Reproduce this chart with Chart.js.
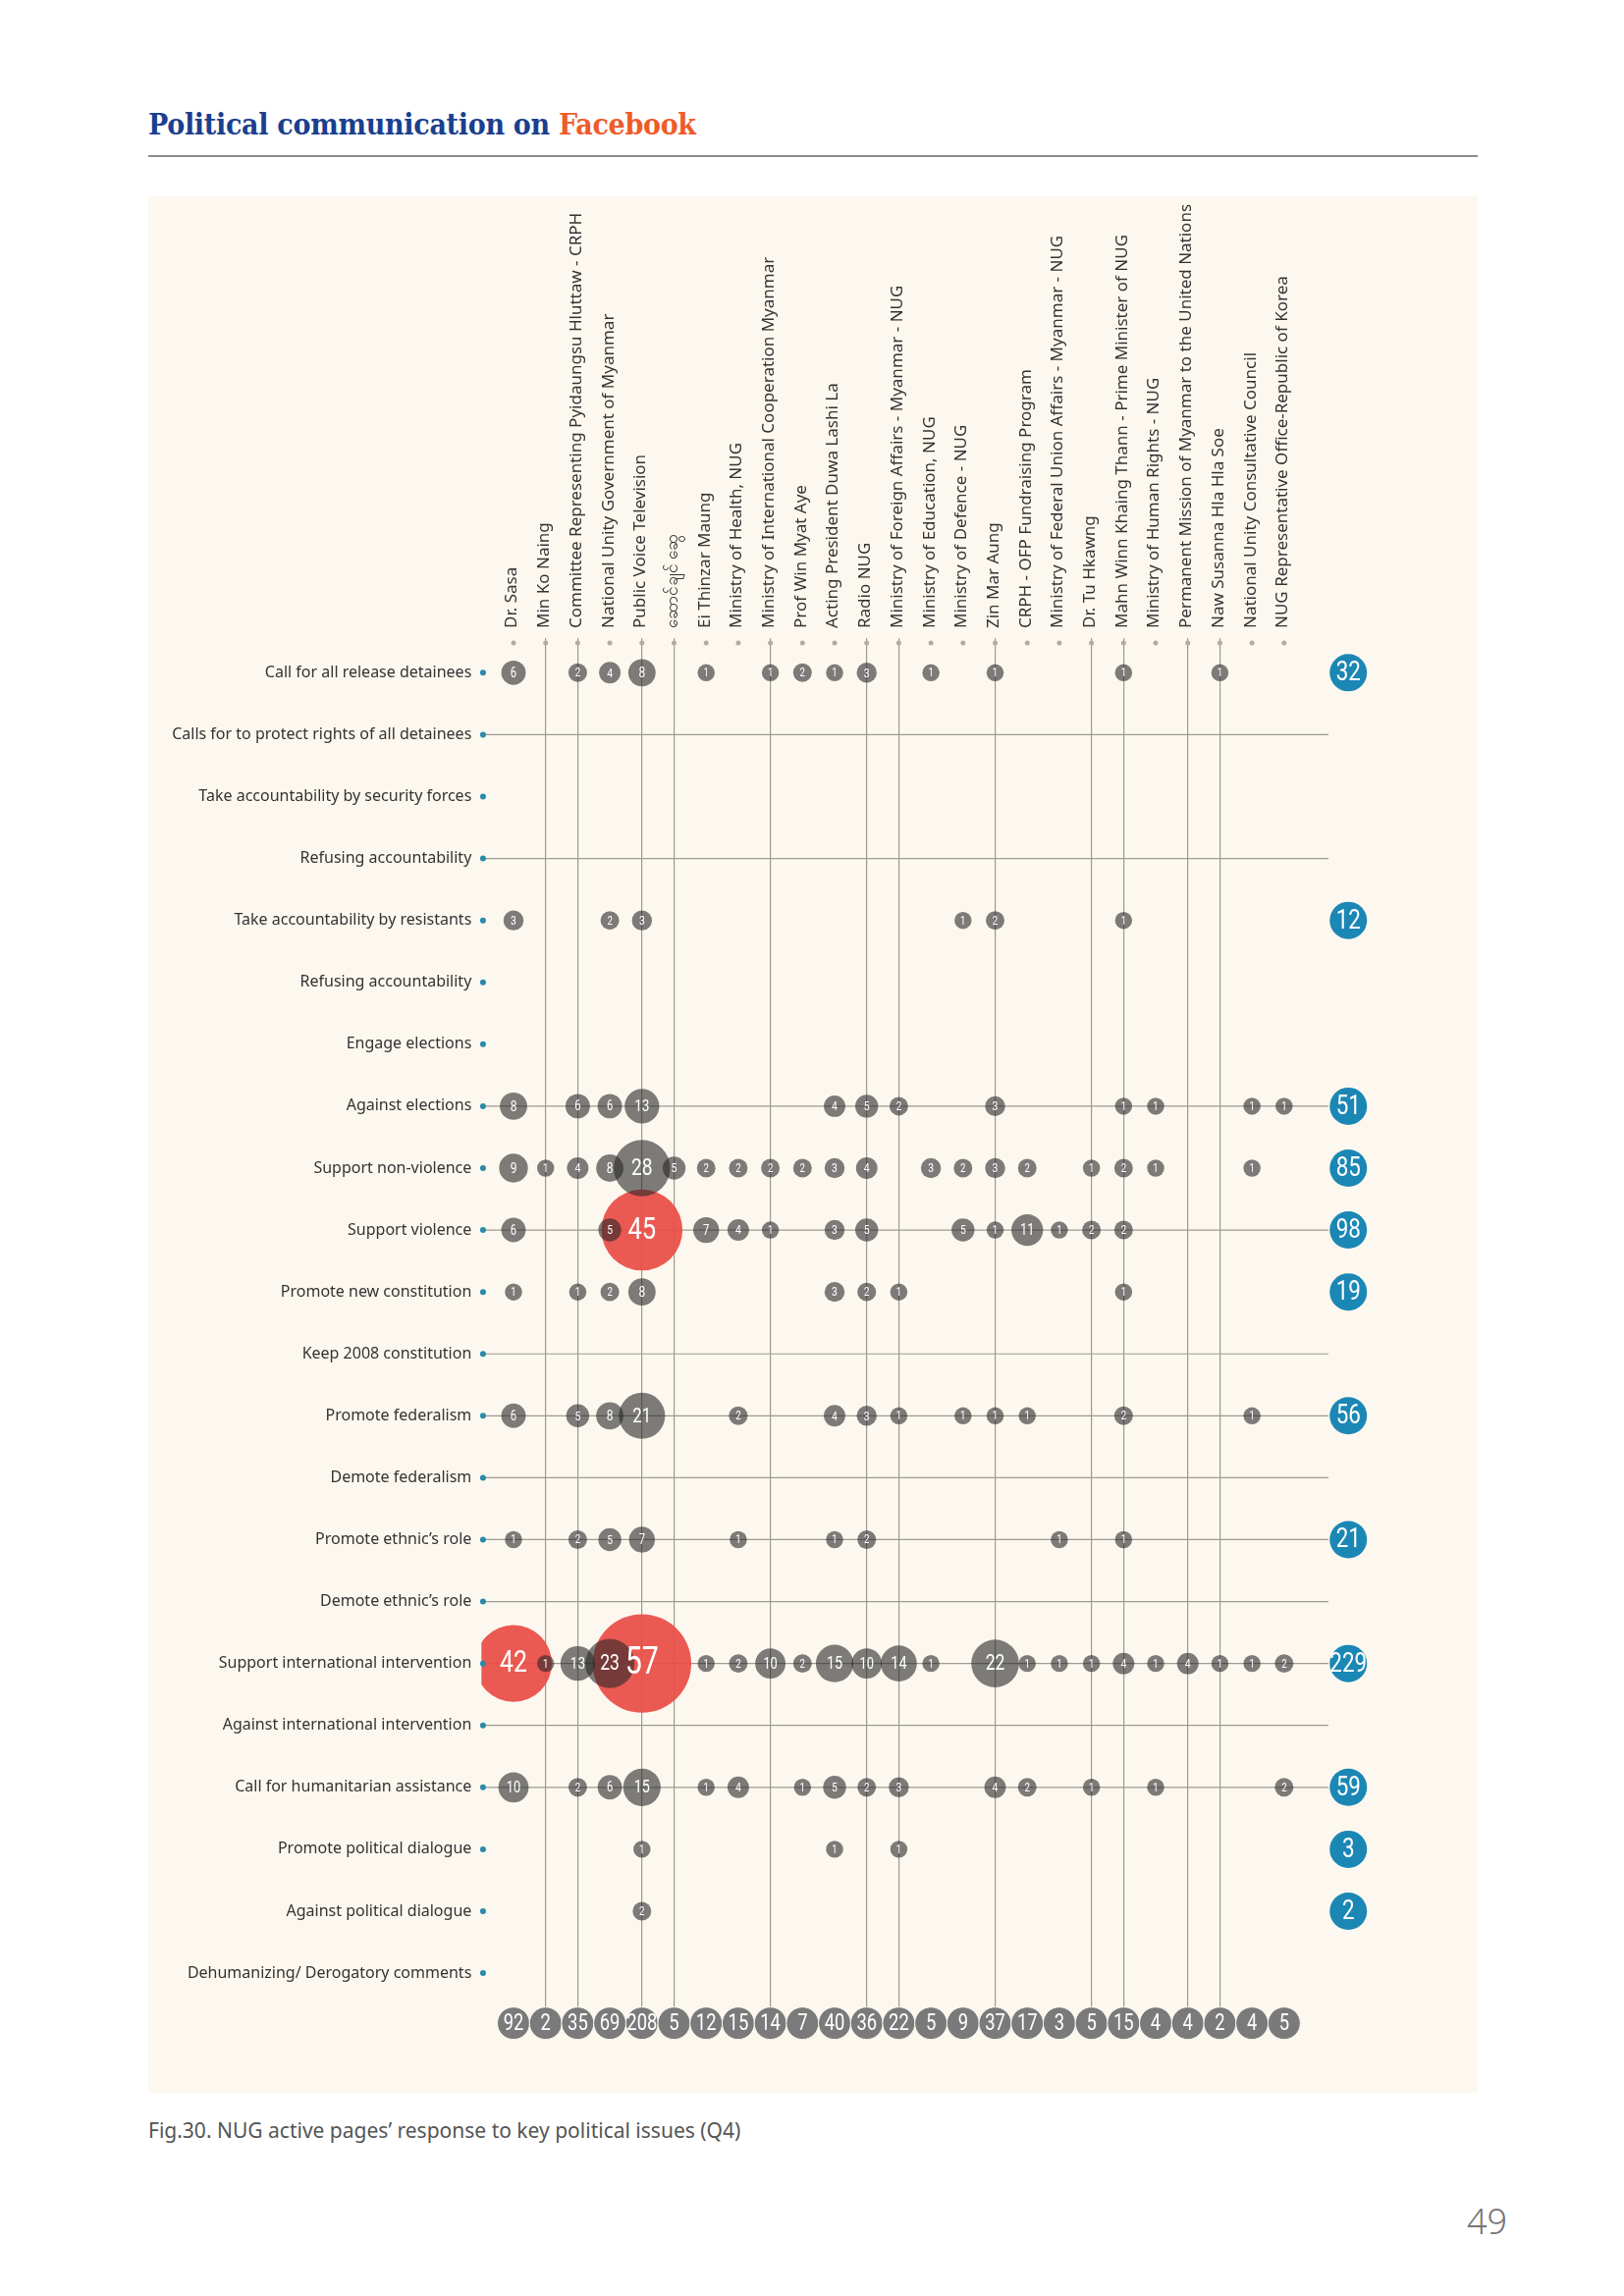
<!DOCTYPE html>
<html>
<head>
<meta charset="utf-8">
<script src="https://cdn.jsdelivr.net/npm/chart.js@4.4.1/dist/chart.umd.min.js"></script>
<style>
    body { margin: 0; background: #fff; width: 1654px; height: 2339px; position: relative; font-family: "Noto Sans", sans-serif; }
    #title { position: absolute; left: 151px; top: 109px; font: bold 30px "DejaVu Serif Condensed", "DejaVu Serif", serif; color: #1b3f8e; letter-spacing: -0.3px; }
    #title span { color: #ef5b2a; }
    #rule { position: absolute; left: 151px; top: 158px; width: 1354px; height: 2px; background: #8a8a8a; }
    #panel { position: absolute; left: 151px; top: 200px; width: 1354px; height: 1932px; background: #fdf8ef; }
    #caption { position: absolute; left: 151px; top: 2156px; font-size: 21px; color: #555; }
    #page { position: absolute; left: 1494px; top: 2238px; font-size: 36px; color: #777; font-weight: 300; }
</style>
</head>
<body>
<div id="title">Political communication on <span>Facebook</span></div>
<div id="rule"></div>
<div id="panel"><canvas id="bubbleChart" width="1354" height="1932"></canvas></div>
<div id="caption">Fig.30. NUG active pages’ response to key political issues (Q4)</div>
<div id="page">49</div>

<script>
const issues = [
    'Call for all release detainees',
    'Calls for to protect rights of all detainees',
    'Take accountability by security forces',
    'Refusing accountability',
    'Take accountability by resistants',
    'Refusing accountability',
    'Engage elections',
    'Against elections',
    'Support non-violence',
    'Support violence',
    'Promote new constitution',
    'Keep 2008 constitution',
    'Promote federalism',
    'Demote federalism',
    'Promote ethnic’s role',
    'Demote ethnic’s role',
    'Support international intervention',
    'Against international intervention',
    'Call for humanitarian assistance',
    'Promote political dialogue',
    'Against political dialogue',
    'Dehumanizing/ Derogatory comments'
];

const pages = [
    'Dr. Sasa',
    'Min Ko Naing',
    'Committee Representing Pyidaungsu Hluttaw - CRPH',
    'National Unity Government of Myanmar',
    'Public Voice Television',
    'ဆောင်ချင် ဆွေ',
    'Ei Thinzar Maung',
    'Ministry of Health, NUG',
    'Ministry of International Cooperation Myanmar',
    'Prof Win Myat Aye',
    'Acting President Duwa Lashi La',
    'Radio NUG',
    'Ministry of Foreign Affairs - Myanmar - NUG',
    'Ministry of Education, NUG',
    'Ministry of Defence - NUG',
    'Zin Mar Aung',
    'CRPH - OFP Fundraising Program',
    'Ministry of Federal Union Affairs - Myanmar - NUG',
    'Dr. Tu Hkawng',
    'Mahn Winn Khaing Thann - Prime Minister of NUG',
    'Ministry of Human Rights - NUG',
    'Permanent Mission of Myanmar to the United Nations',
    'Naw Susanna Hla Hla Soe',
    'National Unity Consultative Council',
    'NUG Representative Office-Republic of Korea'
];

// one row per issue, one value per page (same order as pages)
const counts = [
    [6,0,2,4,8,0,1,0,1,2,1,3,0,1,0,1,0,0,0,1,0,0,1,0,0],
    [0,0,0,0,0,0,0,0,0,0,0,0,0,0,0,0,0,0,0,0,0,0,0,0,0],
    [0,0,0,0,0,0,0,0,0,0,0,0,0,0,0,0,0,0,0,0,0,0,0,0,0],
    [0,0,0,0,0,0,0,0,0,0,0,0,0,0,0,0,0,0,0,0,0,0,0,0,0],
    [3,0,0,2,3,0,0,0,0,0,0,0,0,0,1,2,0,0,0,1,0,0,0,0,0],
    [0,0,0,0,0,0,0,0,0,0,0,0,0,0,0,0,0,0,0,0,0,0,0,0,0],
    [0,0,0,0,0,0,0,0,0,0,0,0,0,0,0,0,0,0,0,0,0,0,0,0,0],
    [8,0,6,6,13,0,0,0,0,0,4,5,2,0,0,3,0,0,0,1,1,0,0,1,1],
    [9,1,4,8,28,5,2,2,2,2,3,4,0,3,2,3,2,0,1,2,1,0,0,1,0],
    [6,0,0,5,45,0,7,4,1,0,3,5,0,0,5,1,11,1,2,2,0,0,0,0,0],
    [1,0,1,2,8,0,0,0,0,0,3,2,1,0,0,0,0,0,0,1,0,0,0,0,0],
    [0,0,0,0,0,0,0,0,0,0,0,0,0,0,0,0,0,0,0,0,0,0,0,0,0],
    [6,0,5,8,21,0,0,2,0,0,4,3,1,0,1,1,1,0,0,2,0,0,0,1,0],
    [0,0,0,0,0,0,0,0,0,0,0,0,0,0,0,0,0,0,0,0,0,0,0,0,0],
    [1,0,2,5,7,0,0,1,0,0,1,2,0,0,0,0,0,1,0,1,0,0,0,0,0],
    [0,0,0,0,0,0,0,0,0,0,0,0,0,0,0,0,0,0,0,0,0,0,0,0,0],
    [42,1,13,23,57,0,1,2,10,2,15,10,14,1,0,22,1,1,1,4,1,4,1,1,2],
    [0,0,0,0,0,0,0,0,0,0,0,0,0,0,0,0,0,0,0,0,0,0,0,0,0],
    [10,0,2,6,15,0,1,4,0,1,5,2,3,0,0,4,2,0,1,0,1,0,0,0,2],
    [0,0,0,0,1,0,0,0,0,0,1,0,1,0,0,0,0,0,0,0,0,0,0,0,0],
    [0,0,0,0,2,0,0,0,0,0,0,0,0,0,0,0,0,0,0,0,0,0,0,0,0],
    [0,0,0,0,0,0,0,0,0,0,0,0,0,0,0,0,0,0,0,0,0,0,0,0,0]
];

const issueTotals = [32,0,0,0,12,0,0,51,85,98,19,0,56,0,21,0,229,0,59,3,2,0];
const pageTotals = [92,2,35,69,208,5,12,15,14,7,40,36,22,5,9,37,17,3,5,15,4,4,2,4,5];

// which pages / issues get a guide line
const lineCols = [2,3,5,6,9,12,13,16,19,20,22,23];
const lineRows = [2,4,8,10,12,13,14,15,16,17,18,19];

const RED_FROM = 30;
const TOTAL_COL = 27;
const TOTAL_ROW = 22.81;
const LINE_END = 26.38;
const NUM_FONT = '"Roboto", "Liberation Sans", sans-serif';
const GUIDE = '#9d9a94';

const grayCells = [];
const redCells = [];
counts.forEach((row, r) => {
    row.forEach((v, c) => {
        if (!v) return;
        const pt = { x: c + 1, y: r + 1, v: v };
        if (v >= RED_FROM) redCells.push(pt); else grayCells.push(pt);
    });
});

const rowTotalPts = issueTotals
    .map((v, r) => ({ x: TOTAL_COL, y: r + 1, v: v }))
    .filter(p => p.v > 0);
const colTotalPts = pageTotals.map((v, c) => ({ x: c + 1, y: TOTAL_ROW, v: v }));
const rowDots = issues.map((_, r) => ({ x: 0.05, y: r + 1 }));
const colDots = pages.map((_, c) => ({ x: c + 1, y: 0.52 }));

// horizontal guides stop before the totals column
const rowGuides = lineRows.map(r => ({
    type: 'line',
    order: 10,
    data: [{ x: 0.05, y: r }, { x: LINE_END, y: r }],
    borderColor: GUIDE,
    borderWidth: 1.2,
    pointRadius: 0,
    fill: false
}));

const cellRadius = ctx => 8 + 0.74 * ctx.raw.v;

// white numbers inside the bubbles, slightly condensed
const bubbleLabels = {
    id: 'bubbleLabels',
    afterDatasetsDraw(chart) {
        const ctx = chart.ctx;
        chart.data.datasets.forEach((ds, i) => {
            if (!ds.numbers) return;
            const meta = chart.getDatasetMeta(i);
            meta.data.forEach((el, j) => {
                const r = el.options.radius;
                const size = ds.numberSize ? ds.numberSize : Math.round(6 + 0.64 * r);
                ctx.save();
                ctx.translate(el.x, el.y + 1);
                ctx.scale(0.8, 1);
                ctx.textAlign = 'center';
                ctx.textBaseline = 'middle';
                ctx.fillStyle = '#fff';
                ctx.font = size + 'px ' + NUM_FONT;
                ctx.fillText(ds.data[j].v, 0, 0);
                ctx.restore();
            });
        });
    }
};

Chart.defaults.font.family = '"Noto Sans", sans-serif';

new Chart(document.getElementById('bubbleChart'), {
    type: 'bubble',
    data: {
        datasets: [
            { data: grayCells, order: 1, numbers: true, radius: cellRadius,
              backgroundColor: 'rgba(40,40,40,0.6)', borderWidth: 0 },
            { data: redCells, order: 2, numbers: true, radius: cellRadius,
              backgroundColor: 'rgba(234,78,70,0.93)', borderWidth: 0 },
            { data: rowTotalPts, order: 0, numbers: true, numberSize: 28, radius: 19, clip: false,
              backgroundColor: '#1b87b5', borderWidth: 0 },
            { data: colTotalPts, order: 0, numbers: true, numberSize: 23, radius: 16.5, clip: false,
              backgroundColor: '#7a7a7a', borderColor: '#fdf8ef', borderWidth: 1 },
            { data: rowDots, order: 0, radius: 3, clip: false,
              backgroundColor: '#2a8aa8', borderWidth: 0 },
            { data: colDots, order: 0, radius: 2.5, clip: false,
              backgroundColor: '#b0aca5', borderWidth: 0 },
            ...rowGuides
        ]
    },
    options: {
        responsive: false,
        animation: false,
        events: [],
        layout: { padding: { left: 0, top: 0, right: 105.6, bottom: 86 } },
        plugins: { legend: { display: false }, tooltip: { enabled: false } },
        scales: {
            x: {
                type: 'linear',
                position: 'top',
                min: 0,
                max: 27.8,
                afterBuildTicks: axis => { axis.ticks = pages.map((_, c) => ({ value: c + 1 })); },
                afterFit: axis => { axis.height = 450; },
                border: { display: false },
                grid: {
                    drawTicks: false,
                    lineWidth: 1.2,
                    color: ctx => lineCols.includes(ctx.tick && ctx.tick.value) ? GUIDE : 'transparent'
                },
                ticks: {
                    autoSkip: false,
                    minRotation: 90,
                    maxRotation: 90,
                    padding: 10,
                    labelOffset: 19,
                    color: '#333',
                    font: { size: 17 },
                    callback: v => pages[v - 1] || ''
                }
            },
            y: {
                type: 'linear',
                reverse: true,
                min: 0.44,
                max: 22.57,
                afterBuildTicks: axis => { axis.ticks = issues.map((_, r) => ({ value: r + 1 })); },
                afterFit: axis => { axis.width = 339.3; },
                border: { display: false },
                grid: { display: false, drawTicks: false },
                ticks: {
                    padding: 10,
                    color: '#333',
                    font: { size: 16 },
                    callback: v => issues[v - 1] || ''
                }
            }
        }
    },
    plugins: [bubbleLabels]
});
</script>
</body>
</html>
